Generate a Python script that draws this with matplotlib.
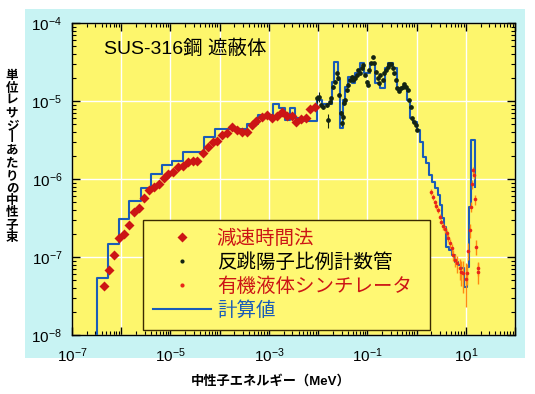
import numpy as np
import matplotlib
matplotlib.use('Agg')
import matplotlib.pyplot as plt
from matplotlib.patches import Rectangle
from matplotlib.lines import Line2D
from matplotlib.ticker import LogLocator, FuncFormatter, NullFormatter

plt.rcParams['font.family'] = ['Liberation Sans', 'Noto Sans CJK JP']
plt.rcParams['mathtext.fontset'] = 'custom'
plt.rcParams['mathtext.rm'] = 'Liberation Sans'

# calculation (step histogram): bin edges in MeV, flux per lethargy
calc_edges = [3.2e-7, 5.4e-7, 9.0e-7, 1.44e-6, 2.5e-6, 4.0e-6, 6.7e-6, 1.07e-5, 1.8e-5, 4.8e-5,
              8.0e-5, 3.6e-4, 6.0e-4, 1.2e-3, 1.6e-3, 2.1e-3, 2.7e-3, 3.4e-3, 5.4e-3, 9.4e-3,
              1.19e-2, 1.9e-2, 2.1e-2, 2.5e-2, 2.8e-2, 3.2e-2, 3.5e-2, 4.0e-2, 4.8e-2, 5.6e-2,
              7.0e-2, 8.5e-2, 0.112, 0.142, 0.18, 0.226, 0.26, 0.33, 0.40, 0.63,
              0.73, 0.84, 1.01, 1.16, 1.34, 1.54, 1.77, 2.04, 2.35, 2.7,
              2.96, 3.26, 3.6, 3.9, 4.5, 5.2, 6.0, 6.9, 7.9, 9.1,
              10.5, 11.5, 12.6, 15.2]
calc_flux = [5.4e-8, 1.47e-7, 3.1e-7, 5.2e-7, 7.7e-7, 1.16e-6, 1.51e-6, 1.70e-6, 2.2e-6, 3.45e-6,
             4.4e-6, 5.1e-6, 6.6e-6, 9.2e-6, 8.1e-6, 5.7e-6, 8.1e-6, 6.1e-6, 5.5e-6, 1.03e-5,
             9.2e-6, 1.75e-5, 3.2e-5, 1.86e-5, 4.5e-6, 1.03e-5, 1.5e-5, 2.03e-5, 1.7e-5, 2.29e-5,
             3.07e-5, 2.29e-5, 3.07e-5, 1.7e-5, 1.47e-5, 2.65e-5, 3.07e-5, 2.65e-5, 1.47e-5, 1.03e-5,
             6.1e-6, 5.4e-6, 4.25e-6, 3.0e-6, 1.91e-6, 1.6e-6, 1.12e-6, 9.2e-7, 7.7e-7, 6.2e-7,
             4.6e-7, 3.2e-7, 2.4e-7, 1.34e-7, 1.23e-7, 1.06e-7, 8.6e-8, 7.9e-8, 7.2e-8, 4.1e-8,
             7.4e-8, 4.4e-7, 3.2e-6]
calc_tail = 7.9e-7

# slowing-down time method (red diamonds)
dt_energy = [4.5e-7, 5.7e-7, 7.1e-7, 9.1e-7, 1.15e-6, 1.44e-6, 1.84e-6, 2.29e-6, 2.9e-6, 3.66e-6,
             4.62e-6, 5.75e-6, 7.4e-6, 9.0e-6, 1.14e-5, 1.44e-5, 1.82e-5, 2.26e-5, 2.84e-5, 3.53e-5,
             4.5e-5, 5.9e-5, 7.2e-5, 8.9e-5, 1.13e-4, 1.42e-4, 1.80e-4, 2.27e-4, 2.87e-4, 3.52e-4,
             4.46e-4, 5.6e-4, 7.1e-4, 9.0e-4, 1.14e-3, 1.43e-3, 1.81e-3, 2.29e-3, 2.89e-3, 3.53e-3,
             4.47e-3, 5.56e-3, 7.0e-3, 8.6e-3]
dt_flux = [4.3e-8, 6.8e-8, 1.06e-7, 1.74e-7, 1.97e-7, 2.57e-7, 3.81e-7, 4.21e-7, 5.66e-7, 7.2e-7,
           7.96e-7, 8.55e-7, 1.02e-6, 1.16e-6, 1.24e-6, 1.44e-6, 1.48e-6, 1.65e-6, 1.70e-6, 1.70e-6,
           2.14e-6, 2.55e-6, 2.96e-6, 3.07e-6, 3.66e-6, 3.85e-6, 4.6e-6, 4.25e-6, 3.97e-6, 4.05e-6,
           4.92e-6, 5.58e-6, 6.3e-6, 6.62e-6, 6.0e-6, 6.49e-6, 7.16e-6, 6.49e-6, 6.49e-6, 5.38e-6,
           5.87e-6, 6.11e-6, 8.0e-6, 8.4e-6]

# recoil proton proportional counter (black dots)
prc_energy = [9.3e-3, 1.05e-2, 1.17e-2, 1.27e-2, 1.49e-2, 1.56e-2, 1.73e-2, 1.87e-2, 2.02e-2, 2.19e-2,
              2.37e-2, 2.55e-2, 2.68e-2, 2.90e-2, 2.99e-2, 3.14e-2, 3.33e-2, 3.49e-2, 3.78e-2, 4.07e-2,
              4.42e-2, 4.78e-2, 5.15e-2, 5.57e-2, 6.04e-2, 6.5e-2, 7.05e-2, 7.62e-2, 8.22e-2, 8.89e-2,
              9.64e-2, 0.101, 0.109, 0.116, 0.128, 0.137, 0.149, 0.161, 0.174, 0.185,
              0.204, 0.219, 0.238, 0.257, 0.277, 0.300, 0.325, 0.350, 0.379, 0.410,
              0.443, 0.479, 0.519, 0.558, 0.605, 0.655, 0.706, 0.764, 0.813, 0.879,
              0.953, 0.998]
prc_flux = [1.08e-5, 1.13e-5, 8.9e-6, 8.3e-6, 8.9e-6, 5.7e-6, 9.8e-6, 1.08e-5, 1.52e-5, 1.77e-5,
            2.26e-5, 1.95e-5, 1.19e-5, 6.95e-6, 5.18e-6, 6.3e-6, 9.35e-6, 1.03e-5, 1.38e-5, 1.60e-5,
            1.86e-5, 2.05e-5, 1.86e-5, 1.95e-5, 2.15e-5, 2.49e-5, 2.26e-5, 2.62e-5, 2.9e-5, 2.15e-5,
            1.77e-5, 1.60e-5, 2.49e-5, 3.04e-5, 3.63e-5, 3.04e-5, 2.38e-5, 1.95e-5, 1.69e-5, 2.15e-5,
            1.86e-5, 2.26e-5, 2.49e-5, 2.75e-5, 2.96e-5, 2.96e-5, 2.62e-5, 2.26e-5, 1.86e-5, 1.46e-5,
            1.36e-5, 1.46e-5, 1.52e-5, 1.64e-5, 1.52e-5, 1.38e-5, 1.03e-5, 8.45e-6, 6.0e-6, 5.43e-6,
            4.92e-6, 4.25e-6]
prc_err = [0.12, 0.15, 0.05, 0.05, 0.05, 0.2, 0.05, 0.05, 0.05, 0.05,
           0.05, 0.05, 0.06, 0.08, 0.08, 0.08, 0.06, 0.05, 0.05, 0.05,
           0.04, 0.04, 0.04, 0.04, 0.04, 0.04, 0.04, 0.04, 0.04, 0.04,
           0.04, 0.04, 0.04, 0.04, 0.04, 0.04, 0.04, 0.04, 0.04, 0.04,
           0.04, 0.04, 0.04, 0.04, 0.04, 0.04, 0.04, 0.04, 0.04, 0.04,
           0.04, 0.04, 0.04, 0.04, 0.04, 0.04, 0.04, 0.04, 0.04, 0.04,
           0.04, 0.04]

# organic liquid scintillator (small red dots, orange error bars)
org_energy = [2.01, 2.17, 2.35, 2.54, 2.74, 2.96, 3.21, 3.46, 3.75, 4.06,
              4.37, 4.73, 5.13, 5.52, 5.98, 6.66, 7.55, 8.18, 8.81, 10.0,
              10.6, 11.3, 12.1, 12.5, 13.2, 13.7, 14.5, 15.7, 16.5, 17.5, 18.1]
org_flux = [6.87e-7, 5.93e-7, 5.0e-7, 4.51e-7, 4.0e-7, 3.29e-7, 2.84e-7, 2.49e-7, 2.29e-7, 2.03e-7,
            1.75e-7, 1.50e-7, 1.29e-7, 1.06e-7, 9.2e-8, 8.3e-8, 7.2e-8, 6.5e-8, 6.2e-8, 5.3e-8,
            6.2e-8, 1.21e-7, 2.22e-7, 4.42e-7, 8.55e-7, 1.30e-6, 1.12e-6, 5.5e-7, 1.36e-7, 7.2e-8, 6.5e-8]
org_err = [0.08, 0.08, 0.08, 0.08, 0.08, 0.08, 0.08, 0.1, 0.1, 0.1,
           0.12, 0.12, 0.15, 0.15, 0.2, 0.25, 0.3, 0.35, 0.45, 0.57,
           0.3, 0.25, 0.2, 0.15, 0.12, 0.1, 0.1, 0.15, 0.22, 0.2, 0.3]

labels = ['減速時間法', '反跳陽子比例計数管', '有機液体シンチレータ', '計算値']
title = 'SUS-316鋼 遮蔽体'
xlabel = '中性子エネルギー（MeV）'
ylabel = '単位レサジーあたりの中性子束'

RED = '#cc1515'
BLUE = '#1a5cb8'
DOT = '#132413'
ORANGE = '#ff8a10'
YELLOW = '#fdf66c'
CYAN = '#c8f3f3'

W, H = 535, 394
fig = plt.figure(figsize=(W / 100, H / 100), dpi=100, facecolor='white')
fig.patches.append(Rectangle((25 / W, 1 - 358 / H), 500 / W, 349 / H,
                             transform=fig.transFigure, facecolor=CYAN, edgecolor='none', zorder=-10))
ax = fig.add_axes([72 / W, 59 / H, 443 / W, 312 / H])
ax.set_facecolor(YELLOW)
ax.set_xscale('log')
ax.set_yscale('log')
ax.set_xlim(1e-7, 1e2)
ax.set_ylim(1e-8, 1e-4)

# calculation histogram
ylo = ax.get_ylim()[0]
cx = [calc_edges[0]] + calc_edges
cy = [ylo] + calc_flux + [calc_tail]
ax.plot(cx, cy, drawstyle='steps-post', color=BLUE, lw=1.5, zorder=3)

# organic scintillator
org_f = np.array(org_flux)
ax.errorbar(org_energy, org_f, yerr=org_f * np.array(org_err), fmt='none',
            ecolor=ORANGE, elinewidth=1, zorder=4)
ax.plot(org_energy, org_f, 'o', color='#e8251a', ms=2.6, mec='none', zorder=5)

# proportional counter
prc_f = np.array(prc_flux)
ax.errorbar(prc_energy, prc_f, yerr=prc_f * np.array(prc_err), fmt='none',
            ecolor=DOT, elinewidth=0.8, zorder=4)
ax.plot(prc_energy, prc_f, 'o', color=DOT, ms=3.4, mec='none', zorder=5)

# slowing-down time
ax.plot(dt_energy, dt_flux, 'D', color=RED, ms=4.6, mec='none', zorder=5)

# axes styling
ax.xaxis.set_major_locator(LogLocator(base=10, numticks=20))
ax.xaxis.set_minor_locator(LogLocator(base=10, subs=np.arange(2, 10), numticks=20))
ax.yaxis.set_major_locator(LogLocator(base=10, numticks=20))
ax.yaxis.set_minor_locator(LogLocator(base=10, subs=np.arange(2, 10), numticks=20))


def xfmt(v, pos):
    e = int(round(np.log10(v)))
    return r'$\mathrm{10^{%d}}$' % e if e % 2 != 0 else ''


def yfmt(v, pos):
    e = int(round(np.log10(v)))
    return r'$\mathrm{10^{%d}}$' % e


ax.xaxis.set_major_formatter(FuncFormatter(xfmt))
ax.yaxis.set_major_formatter(FuncFormatter(yfmt))
ax.xaxis.set_minor_formatter(NullFormatter())
ax.yaxis.set_minor_formatter(NullFormatter())
ax.tick_params(which='both', direction='in', top=True, right=True, colors='black', labelsize=11)
ax.tick_params(which='major', length=6, width=1)
ax.tick_params(which='minor', length=3, width=0.8)
ax.tick_params(axis='x', pad=8)
ax.tick_params(axis='y', pad=7)
ax.grid(True, which='major', color='white', lw=1)
ax.set_axisbelow(True)
for s in ax.spines.values():
    s.set_color('black')
    s.set_linewidth(1)

# legend
handles = [Line2D([], [], ls='none', marker='D', color=RED, ms=5, mec='none'),
           Line2D([], [], ls='none', marker='o', color=DOT, ms=3, mec='none'),
           Line2D([], [], ls='none', marker='o', color='#e8251a', ms=3, mec='none'),
           Line2D([], [], color=BLUE, lw=1.5)]
leg = ax.legend(handles, labels, loc='lower left', bbox_to_anchor=(0.160, 0.016, 0.648, 0.362),
                mode='expand', borderaxespad=0, fontsize=14, labelspacing=0.28,
                handlelength=3.0, handletextpad=0.3, borderpad=0.5, numpoints=1,
                frameon=True, fancybox=False, facecolor='#fff873', edgecolor='#3a2a00')
leg.get_frame().set_linewidth(1)
leg.get_frame().set_alpha(1)
for t, c in zip(leg.get_texts(), [RED, 'black', RED, BLUE]):
    t.set_color(c)

# texts
fig.text(104 / W, 1 - 49 / H, title, fontsize=14, ha='left', va='center')
fig.text(271 / W, 1 - 381 / H, xlabel, fontsize=9.5, fontweight='bold', ha='center', va='center')
ychars = ylabel.replace('ー', '丨')
fig.text(12 / W, 1 - 157 / H, '\n'.join(ychars), fontsize=9, fontweight='bold',
         ha='center', va='center', linespacing=1.05)

fig.savefig('out.png', dpi=100, facecolor=fig.get_facecolor())
